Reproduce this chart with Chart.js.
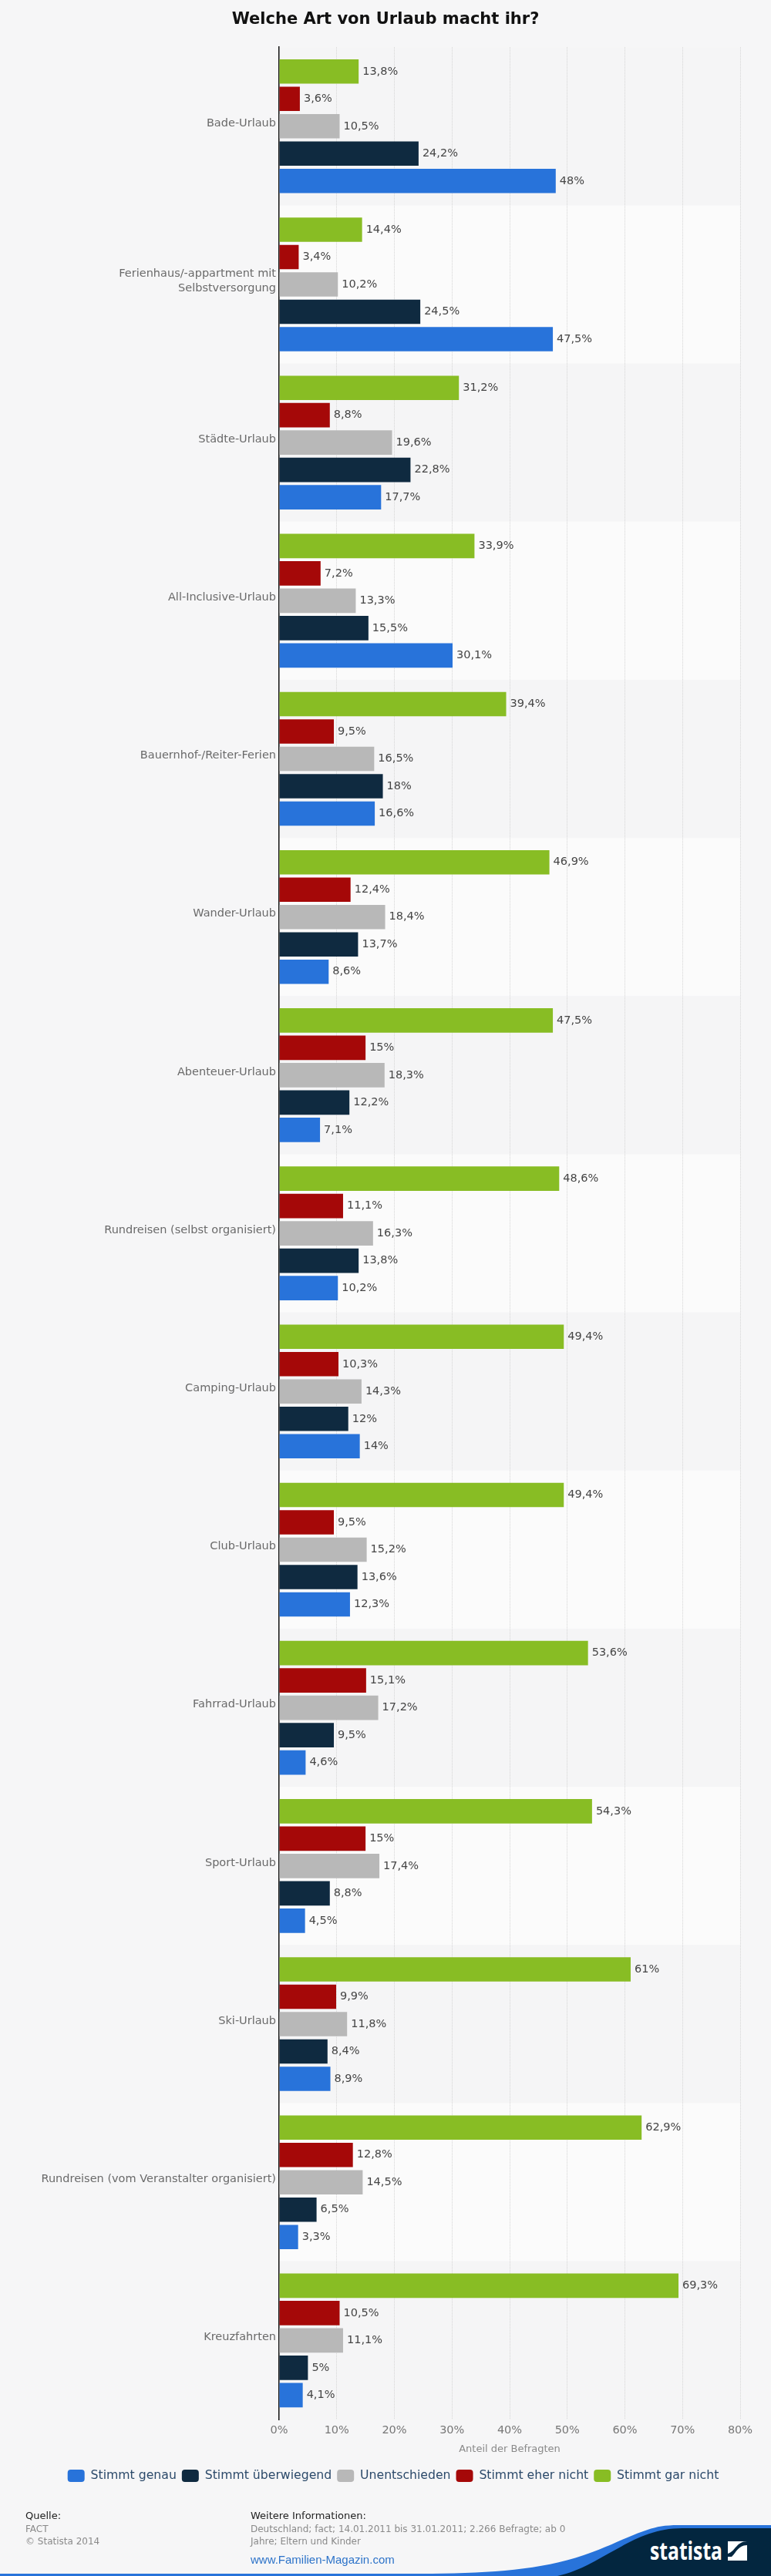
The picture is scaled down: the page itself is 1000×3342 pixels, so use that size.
<!DOCTYPE html>
<html lang="de">
<head>
<meta charset="utf-8">
<title>Welche Art von Urlaub macht ihr?</title>
<script src="https://cdn.jsdelivr.net/npm/chart.js@4/dist/chart.umd.js"></script>
<style>
html,body{margin:0;padding:0;background:#f6f6f7;width:1000px;height:3342px;overflow:hidden;font-family:"DejaVu Sans",sans-serif}
#wrap{position:relative;width:1000px;height:3342px}
canvas{position:absolute;left:0;top:0}
.t{position:absolute;white-space:nowrap;line-height:16px}
.h{font-size:13px;color:#222}
.g{font-size:12px;color:#8a8a8a}
svg{position:absolute;left:0;top:3270px}
</style>
</head>
<body>
<div id="wrap">
<svg width="1000" height="72" viewBox="0 3270 1000 72">
<path d="M0 3339 L560 3339 C640 3338 700 3334 757 3315 C790 3304 815 3290 840 3282 C852 3278 862 3276 880 3276 L1000 3276 L1000 3342 L0 3342 Z" fill="#2873da"/>
<path d="M723 3342 C755 3335 775 3320 800 3307 C825 3293 850 3280 885 3280 L1000 3280 L1000 3342 Z" fill="#03263f"/>
<text x="843" y="3321" fill="#fff" font-family="'Open Sans',sans-serif" font-weight="700" font-size="32" textLength="94" lengthAdjust="spacingAndGlyphs">statista</text>
<rect x="944" y="3297" width="25" height="25" fill="#fff"/>
<path d="M969 3297 L969 3302 C958 3302 955 3311 949 3317 L944 3317 L944 3313 C953 3311 955 3297 969 3297 Z" fill="#03263f"/>
</svg>
<canvas id="c" width="1000" height="3342"></canvas>
<div class="t h" style="left:33px;top:3256px">Quelle:</div>
<div class="t g" style="left:33px;top:3273px">FACT</div>
<div class="t g" style="left:33px;top:3289px">© Statista 2014</div>
<div class="t h" style="left:325px;top:3256px">Weitere Informationen:</div>
<div class="t g" style="left:325px;top:3273px">Deutschland; fact; 14.01.2011 bis 31.01.2011; 2.266 Befragte; ab 0</div>
<div class="t g" style="left:325px;top:3289px">Jahre; Eltern und Kinder</div>
<div class="t" style="left:325px;top:3313px;font-family:'Liberation Sans',sans-serif;font-size:15px;color:#2d73c9">www.Familien-Magazin.com</div>
</div>
<script>
const categories = [
  "Bade-Urlaub",
  ["Ferienhaus/-appartment mit", "Selbstversorgung"],
  "Städte-Urlaub",
  "All-Inclusive-Urlaub",
  "Bauernhof-/Reiter-Ferien",
  "Wander-Urlaub",
  "Abenteuer-Urlaub",
  "Rundreisen (selbst organisiert)",
  "Camping-Urlaub",
  "Club-Urlaub",
  "Fahrrad-Urlaub",
  "Sport-Urlaub",
  "Ski-Urlaub",
  "Rundreisen (vom Veranstalter organisiert)",
  "Kreuzfahrten"
];
const stimmtGarNicht   = [13.8,14.4,31.2,33.9,39.4,46.9,47.5,48.6,49.4,49.4,53.6,54.3,61,62.9,69.3];
const stimmtEherNicht  = [3.6,3.4,8.8,7.2,9.5,12.4,15,11.1,10.3,9.5,15.1,15,9.9,12.8,10.5];
const unentschieden    = [10.5,10.2,19.6,13.3,16.5,18.4,18.3,16.3,14.3,15.2,17.2,17.4,11.8,14.5,11.1];
const stimmtUeberwiegend = [24.2,24.5,22.8,15.5,18,13.7,12.2,13.8,12,13.6,9.5,8.8,8.4,6.5,5];
const stimmtGenau      = [48,47.5,17.7,30.1,16.6,8.6,7.1,10.2,14,12.3,4.6,4.5,8.9,3.3,4.1];

const FONT = '"DejaVu Sans", sans-serif';

const bands = {
  id: 'bands',
  beforeDraw(chart) {
    const {ctx, chartArea: a, scales: {y}} = chart;
    const pitch = (a.bottom - a.top) / categories.length;
    categories.forEach((_, i) => {
      const mid = y.getPixelForValue(i);
      ctx.fillStyle = i % 2 ? '#fbfbfb' : '#f5f5f6';
      ctx.fillRect(a.left, mid - pitch / 2, a.right - a.left, pitch);
    });
  }
};

const valueLabels = {
  id: 'valueLabels',
  afterDatasetsDraw(chart) {
    const {ctx} = chart;
    ctx.save();
    ctx.font = '14.5px ' + FONT;
    ctx.fillStyle = '#454545';
    ctx.textAlign = 'left';
    ctx.textBaseline = 'middle';
    chart.data.datasets.forEach((ds, d) => {
      chart.getDatasetMeta(d).data.forEach((bar, i) => {
        ctx.fillText(String(ds.data[i]).replace('.', ',') + '%', bar.x + 5, bar.y);
      });
    });
    ctx.restore();
  }
};

const nudges = {
  id: 'nudges',
  afterLayout(chart) {
    const y = chart.scales.y;
    if (!y._nudged) {
      const orig = y.drawLabels;
      y.drawLabels = function (area) {
        chart.ctx.save();
        chart.ctx.translate(0, -4);
        orig.call(this, area);
        chart.ctx.restore();
      };
      y._nudged = true;
    }
    chart.legend.left += 10;
    chart.legend.right += 10;
  }
};

new Chart(document.getElementById('c'), {
  type: 'bar',
  data: {
    labels: categories,
    datasets: [
      {label: 'Stimmt gar nicht', data: stimmtGarNicht, backgroundColor: '#88bd24'},
      {label: 'Stimmt eher nicht', data: stimmtEherNicht, backgroundColor: '#a50808'},
      {label: 'Unentschieden', data: unentschieden, backgroundColor: '#b8b8b8'},
      {label: 'Stimmt überwiegend', data: stimmtUeberwiegend, backgroundColor: '#0f2a40'},
      {label: 'Stimmt genau', data: stimmtGenau, backgroundColor: '#2873da'}
    ]
  },
  options: {
    indexAxis: 'y',
    responsive: false,
    devicePixelRatio: 1,
    animation: false,
    categoryPercentage: 0.865,
    barPercentage: 0.89,
    layout: {padding: {top: 0, left: 0, right: 0, bottom: 112}},
    scales: {
      x: {
        type: 'linear',
        position: 'bottom',
        min: 0,
        max: 80,
        afterFit(s) { s.height = 58; },
        grid: {
          drawTicks: false,
          color: c => c.tick.value === 0 ? 'rgba(0,0,0,0)' : '#d4d4d4',
          lineWidth: 1
        },
        border: {display: false, dash: [1, 1]},
        ticks: {
          stepSize: 10,
          padding: 6,
          maxRotation: 0,
          color: '#777',
          font: {family: FONT, size: 14.5},
          callback: v => v + '%'
        },
        title: {
          display: true,
          text: 'Anteil der Befragten',
          color: '#8a8a8a',
          font: {family: FONT, size: 13},
          padding: {top: 0, bottom: 12}
        }
      },
      y: {
        type: 'category',
        position: 'left',
        afterFit(s) { s.width = 362; },
        grid: {display: false, drawTicks: false},
        border: {display: true, color: '#111', width: 1.5},
        ticks: {
          autoSkip: false,
          padding: 4,
          color: '#6a6a6a',
          font: {family: FONT, size: 14.5, lineHeight: 1.31}
        }
      },
      spacer: {
        type: 'category',
        position: 'right',
        labels: [''],
        afterFit(s) { s.width = 40; },
        grid: {display: false},
        border: {display: false},
        ticks: {display: false}
      }
    },
    plugins: {
      title: {
        display: true,
        text: 'Welche Art von Urlaub macht ihr?',
        color: '#111',
        font: {family: FONT, size: 21, weight: 'bold', lineHeight: 1.2},
        padding: {top: 13, bottom: 23}
      },
      legend: {
        display: true,
        position: 'bottom',
        reverse: true,
        labels: {
          boxWidth: 22,
          boxHeight: 16,
          padding: 7,
          useBorderRadius: true,
          borderRadius: 4,
          color: '#2c4a6a',
          font: {family: FONT, size: 15.7}
        }
      },
      tooltip: {enabled: false}
    }
  },
  plugins: [bands, valueLabels, nudges]
});
</script>
</body>
</html>
